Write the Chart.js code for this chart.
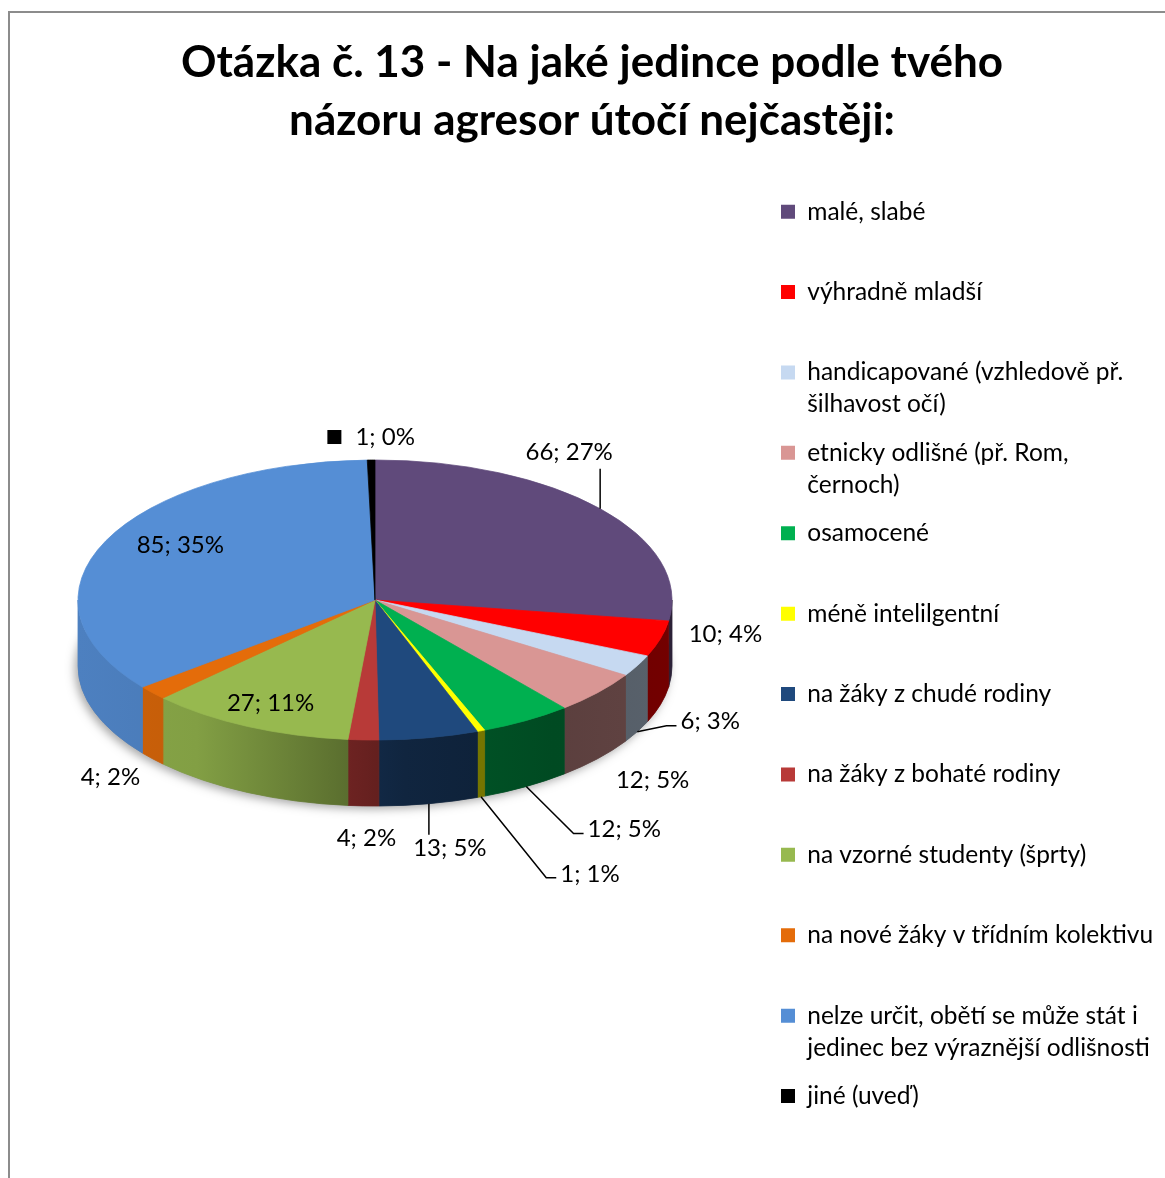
<!DOCTYPE html>
<html>
<head>
<meta charset="utf-8">
<script src="https://cdn.jsdelivr.net/npm/chart.js@4.4.1/dist/chart.umd.min.js"></script>
<style>
  html, body { margin: 0; padding: 0; background: #fff; }
  #frame { position: absolute; left: 8px; top: 11px; width: 1300px; height: 1300px;
           border-top: 2px solid #8c8c8c; border-left: 2px solid #8c8c8c; }
  #wrap { position: absolute; left: 0; top: 0; width: 1165px; height: 1178px; }
</style>
</head>
<body>
<div id="frame"></div>
<div id="wrap"><canvas id="chart" width="1165" height="1178"></canvas></div>
<script>
// Chart data
const titleLines = ['Otázka č. 13 - Na jaké jedince podle tvého', 'názoru agresor útočí nejčastěji:'];
const categories = [
  ['malé, slabé'],
  ['výhradně mladší'],
  ['handicapované (vzhledově př.', 'šilhavost očí)'],
  ['etnicky odlišné (př. Rom,', 'černoch)'],
  ['osamocené'],
  ['méně intelilgentní'],
  ['na žáky z chudé rodiny'],
  ['na žáky z bohaté rodiny'],
  ['na vzorné studenty (šprty)'],
  ['na nové žáky v třídním kolektivu'],
  ['nelze určit, obětí se může stát i', 'jedinec bez výraznější odlišnosti'],
  ['jiné (uveď)']
];
const counts = [66, 10, 6, 12, 12, 1, 13, 4, 27, 4, 85, 1];
const percentLabels = ['27%', '4%', '3%', '5%', '5%', '1%', '5%', '2%', '11%', '2%', '35%', '0%'];
const colors = ['#604a7b', '#ff0000', '#c6d9f1', '#d99694', '#00b050', '#ffff00',
                '#1f497d', '#b83a38', '#97b94f', '#e46c0a', '#558ed5', '#000000'];

// label placement: k = radial factor on the ellipse, dx/dy = nudge, leader line, legend key
const labelPlacement = [
  { k: 1, dx: -31, dy: -56, leader: true },
  { k: 1, dx: 65, dy: -4 },
  { k: 1, dx: 73, dy: 56, leader: true },
  { k: 1, dx: 55, dy: 88 },
  { k: 1, dx: 98, dy: 109, leader: true },
  { k: 1, dx: 109, dy: 143, leader: true },
  { k: 1, dx: 21, dy: 111, leader: true },
  { k: 1, dx: 3, dy: 98 },
  { k: 0.82, dx: 0, dy: 0 },
  { k: 1, dx: -42, dy: 85 },
  { k: 0.82, dx: 26, dy: -6 },
  { k: 1, dx: 14, dy: -23, key: true }
];

const FONT = 'Lato, "Open Sans", sans-serif';

function shade(hex, f) {
  const n = parseInt(hex.slice(1), 16);
  const r = Math.round(((n >> 16) & 255) * f);
  const g = Math.round(((n >> 8) & 255) * f);
  const b = Math.round((n & 255) * f);
  return 'rgb(' + r + ',' + g + ',' + b + ')';
}

// draws the pie as a tilted disc: side walls, squashed top face, data labels
const pie3d = {
  id: 'pie3d',
  geometry(chart, opts) {
    const arc = chart.getDatasetMeta(0).data[0];
    return {
      x0: arc.x, y0: arc.y,
      X: arc.x + opts.offsetX, Y: arc.y + opts.offsetY,
      rx: arc.outerRadius, ry: arc.outerRadius * opts.tilt
    };
  },
  beforeDatasetsDraw(chart, args, opts) {
    const ctx = chart.ctx;
    const arcs = chart.getDatasetMeta(0).data;
    const g = this.geometry(chart, opts);

    // soft shadow under the disc
    ctx.save();
    ctx.shadowColor = 'rgba(0,0,0,0.35)';
    ctx.shadowBlur = 10;
    ctx.shadowOffsetX = -3;
    ctx.shadowOffsetY = 3;
    ctx.fillStyle = '#888';
    ctx.beginPath();
    ctx.ellipse(g.X, g.Y + opts.depth, g.rx, g.ry, 0, 0, Math.PI * 2);
    ctx.fill();
    ctx.restore();

    arcs.forEach((arc, i) => {
      const a0 = Math.max(arc.startAngle, 0);
      const a1 = Math.min(arc.endAngle, Math.PI);
      if (a1 <= a0) return;
      const base = colors[i];
      const grad = ctx.createLinearGradient(g.X - g.rx, 0, g.X + g.rx, 0);
      grad.addColorStop(0, shade(base, 0.9));
      grad.addColorStop(0.2, shade(base, 0.86));
      grad.addColorStop(0.45, shade(base, 0.6));
      grad.addColorStop(0.55, shade(base, 0.5));
      grad.addColorStop(0.8, shade(base, 0.42));
      grad.addColorStop(1, shade(base, 0.45));
      ctx.beginPath();
      ctx.ellipse(g.X, g.Y, g.rx, g.ry, 0, a0, a1, false);
      ctx.ellipse(g.X, g.Y + opts.depth, g.rx, g.ry, 0, a1, a0, true);
      ctx.closePath();
      ctx.fillStyle = grad;
      ctx.fill();
      ctx.strokeStyle = grad;
      ctx.lineWidth = 0.8;
      ctx.stroke();
    });

    // squash the library's own arcs into the top face
    ctx.save();
    ctx.translate(g.X, g.Y);
    ctx.scale(1, opts.tilt);
    ctx.translate(-g.x0, -g.y0);
  },
  afterDatasetsDraw(chart, args, opts) {
    const ctx = chart.ctx;
    ctx.restore();
    const arcs = chart.getDatasetMeta(0).data;
    const g = this.geometry(chart, opts);
    const labels = chart.data.datasets[0].valueLabels;

    ctx.save();
    ctx.font = '24px ' + FONT;
    ctx.textBaseline = 'middle';
    ctx.textAlign = 'center';
    arcs.forEach((arc, i) => {
      const p = labelPlacement[i];
      const t = (arc.startAngle + arc.endAngle) / 2;
      const tx = g.X + p.k * g.rx * Math.cos(t) + p.dx;
      const ty = g.Y + p.k * g.ry * Math.sin(t) + p.dy;
      const text = labels[i];
      const w = ctx.measureText(text).width;
      if (p.leader) {
        const ex = g.X + g.rx * Math.cos(t);
        const ey = g.Y + g.ry * Math.sin(t) + (Math.sin(t) > 0 ? opts.depth : 0);
        ctx.beginPath();
        ctx.strokeStyle = '#000';
        ctx.lineWidth = 1.5;
        ctx.moveTo(ex, ey);
        if (tx - w / 2 > ex + 10) {
          ctx.lineTo(tx - w / 2 - 14, ty + 4);
          ctx.lineTo(tx - w / 2 - 4, ty + 4);
        } else if (ty > ey) {
          ctx.lineTo(ex, ty - 14);
        } else {
          ctx.lineTo(ex, ty + 16);
        }
        ctx.stroke();
      }
      if (p.key) {
        ctx.fillStyle = colors[i];
        ctx.fillRect(tx - w / 2 - 28, ty - 7, 14, 14);
      }
      ctx.fillStyle = '#000';
      ctx.fillText(text, tx, ty);
    });
    ctx.restore();
  }
};

// legend placement: first legend key at x = 781
const legendSize = 24.5;
const measureCtx = document.createElement('canvas').getContext('2d');
measureCtx.font = legendSize + 'px ' + FONT;
let longest = 0;
categories.forEach(lines => lines.forEach(s => {
  longest = Math.max(longest, measureCtx.measureText(s).width);
}));
const padRight = 1130 - legendSize / 2 + 11 - 781 - longest;
const padLeft = padRight + 19;

const ctx = document.getElementById('chart').getContext('2d');
const chart = new Chart(ctx, {
  type: 'pie',
  data: {
    labels: categories,
    datasets: [{
      data: counts,
      valueLabels: counts.map((c, i) => c + '; ' + percentLabels[i]),
      backgroundColor: colors,
      borderColor: colors,
      borderWidth: 1,
      radius: 297
    }]
  },
  options: {
    responsive: false,
    animation: false,
    layout: { padding: { left: padLeft, right: padRight, top: 0, bottom: 0 } },
    plugins: {
      title: {
        display: true,
        text: titleLines,
        color: '#000',
        font: { family: FONT, size: 44, weight: 'bold', lineHeight: 58 / 44 },
        padding: { top: 34, bottom: 33 }
      },
      legend: {
        position: 'right',
        align: 'start',
        fullSize: false,
        labels: {
          color: '#000',
          font: { family: FONT, size: legendSize, lineHeight: 32 / legendSize },
          boxWidth: 14,
          boxHeight: 14,
          padding: 16.4,
          generateLabels(chart) {
            const items = Chart.overrides.pie.plugins.legend.labels.generateLabels(chart);
            return items.map(it => {
              const lines = categories[it.index].slice();
              while (lines.length < 2) lines.push('');
              it.text = lines;
              it.lineWidth = 0;
              return it;
            });
          }
        }
      },
      tooltip: { enabled: false },
      pie3d: { tilt: 140 / 297, depth: 66, offsetX: 0, offsetY: 0 }
    }
  },
  plugins: [pie3d]
});

// place the disc: centre of top face at (375, 600)
const area = chart.chartArea;
chart.options.plugins.pie3d.offsetX = 375 - (area.left + area.right) / 2;
chart.options.plugins.pie3d.offsetY = 600 - (area.top + area.bottom) / 2;
chart.update('none');
</script>
</body>
</html>
